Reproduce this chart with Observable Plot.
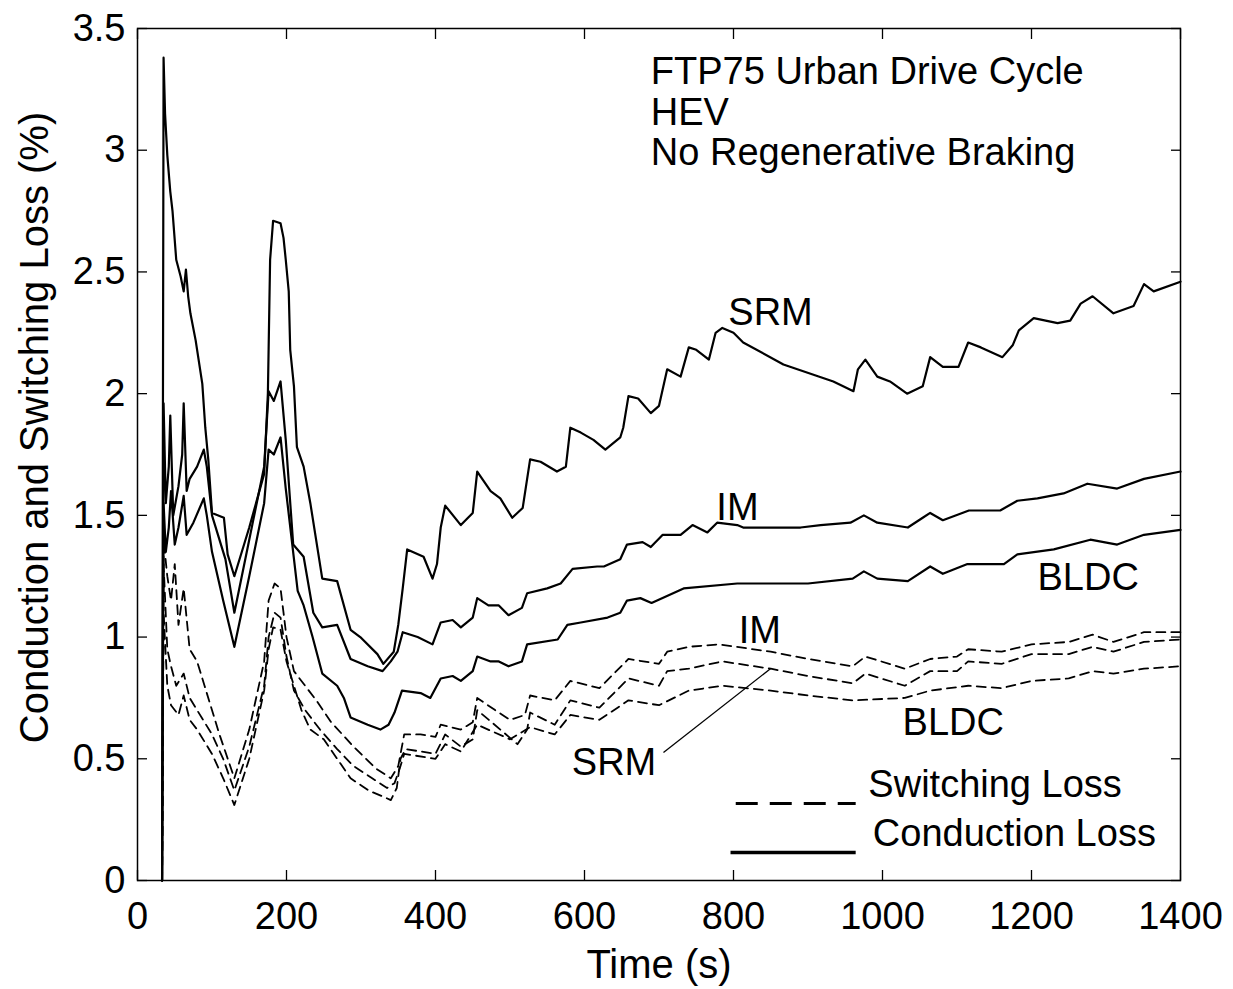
<!DOCTYPE html>
<html>
<head>
<meta charset="utf-8">
<script src="https://cdn.jsdelivr.net/npm/d3@7"></script>
<script src="https://cdn.jsdelivr.net/npm/@observablehq/plot@0.6"></script>
<style>
  html, body { margin: 0; padding: 0; background: #fff; }
  #chart svg { display: block; }
</style>
</head>
<body>
<div id="chart"></div>
<script>
// ---- Data ----
// Conduction loss (solid)
const srmCondT = [33,35,37,40,44,47,52,58,62,65,68,71,78,87,91,95,100,116,121,130,150,170,175,178,182,192,196,199,203,205,210,214,223,232,248,268,286,299,322,330,344,350,356,362,384,396,402,407,413,434,450,456,474,487,503,517,527,541,563,575,581,595,612,628,648,652,659,672,689,700,711,729,740,750,767,776,785,800,813,867,934,961,967,977,993,1010,1033,1054,1064,1081,1102,1115,1132,1161,1175,1183,1203,1235,1252,1266,1282,1310,1337,1351,1364,1400];
const srmCondV = [0,3.38,3.15,2.98,2.83,2.75,2.55,2.48,2.42,2.51,2.40,2.33,2.22,2.04,1.86,1.73,1.51,1.49,1.34,1.25,1.45,1.67,2.00,2.55,2.71,2.70,2.64,2.55,2.42,2.18,2.03,1.78,1.70,1.55,1.24,1.23,1.03,1.00,0.93,0.89,0.94,1.05,1.20,1.36,1.33,1.24,1.30,1.45,1.54,1.46,1.51,1.68,1.60,1.57,1.49,1.53,1.73,1.72,1.68,1.70,1.86,1.84,1.81,1.77,1.82,1.86,1.99,1.98,1.92,1.95,2.10,2.07,2.19,2.18,2.14,2.25,2.27,2.25,2.21,2.12,2.05,2.01,2.10,2.14,2.07,2.05,2.00,2.03,2.15,2.11,2.11,2.21,2.19,2.15,2.20,2.26,2.31,2.29,2.30,2.37,2.40,2.33,2.36,2.45,2.42,2.46];

const imCondT = [33,35,38,42,44,48,55,60,62,66,70,80,89,93,100,118,130,150,170,176,183,192,199,209,223,236,248,268,286,309,329,340,349,356,376,396,407,423,434,450,456,471,485,498,516,523,550,568,584,617,626,648,657,678,689,705,729,745,765,778,805,813,890,917,957,975,993,1034,1054,1064,1081,1116,1158,1181,1208,1243,1275,1315,1351,1400];
const imCondV = [0,1.96,1.55,1.70,1.91,1.50,1.62,1.75,1.96,1.60,1.65,1.70,1.77,1.70,1.50,1.32,1.10,1.40,1.70,2.01,1.97,2.05,1.81,1.38,1.33,1.10,1.04,1.05,0.91,0.88,0.86,0.90,0.94,1.02,1.00,0.97,1.06,1.07,1.04,1.08,1.16,1.13,1.13,1.09,1.12,1.18,1.20,1.22,1.28,1.29,1.29,1.32,1.38,1.39,1.37,1.42,1.42,1.46,1.43,1.47,1.46,1.45,1.45,1.46,1.47,1.50,1.47,1.45,1.49,1.51,1.48,1.52,1.52,1.56,1.57,1.59,1.63,1.61,1.65,1.68];

const bldcCondT = [33,35,38,42,45,50,55,62,66,75,89,93,100,115,130,150,170,176,183,192,199,215,223,235,248,268,277,286,309,326,337,345,355,380,393,407,423,434,450,456,474,485,498,516,523,564,577,595,631,648,657,675,690,733,805,900,960,975,993,1034,1064,1081,1114,1163,1181,1230,1279,1315,1351,1400];
const bldcCondV = [0,1.55,1.35,1.45,1.60,1.38,1.45,1.58,1.42,1.47,1.57,1.50,1.35,1.15,0.96,1.25,1.55,1.77,1.75,1.82,1.61,1.19,1.13,1.00,0.85,0.80,0.75,0.67,0.64,0.62,0.64,0.69,0.78,0.77,0.75,0.83,0.84,0.82,0.86,0.92,0.90,0.90,0.88,0.90,0.97,0.99,1.05,1.06,1.08,1.10,1.15,1.16,1.14,1.20,1.22,1.22,1.24,1.27,1.24,1.23,1.29,1.26,1.30,1.30,1.34,1.36,1.40,1.38,1.42,1.44];

// Switching loss (dashed)
const imSwT = [33,35,40,45,50,55,62,70,80,90,110,130,150,170,176,184,192,200,210,225,240,260,290,320,340,350,358,380,400,407,434,450,456,480,500,520,527,560,581,620,659,700,711,740,780,850,900,960,977,1030,1064,1100,1115,1160,1200,1250,1282,1310,1351,1400];
const imSwV = [0,1.40,1.25,1.15,1.30,1.05,1.20,0.95,0.90,0.80,0.60,0.42,0.62,0.90,1.15,1.22,1.20,1.00,0.86,0.80,0.74,0.65,0.55,0.46,0.42,0.47,0.60,0.60,0.59,0.64,0.62,0.65,0.75,0.70,0.66,0.68,0.76,0.74,0.82,0.79,0.91,0.89,0.94,0.96,0.97,0.94,0.91,0.88,0.92,0.87,0.91,0.92,0.95,0.94,0.97,0.98,1.01,0.98,1.02,1.02];

const srmSwT = [33,35,40,45,55,62,70,80,100,115,130,150,170,176,182,192,200,210,220,232,250,268,286,310,333,340,348,353,360,400,413,434,450,456,487,510,523,527,560,581,620,659,700,711,740,785,850,900,960,977,1030,1064,1100,1115,1160,1200,1250,1282,1310,1351,1400];
const srmSwV = [0,1.10,0.80,0.72,0.68,0.76,0.66,0.62,0.52,0.42,0.31,0.50,0.78,0.95,1.04,1.03,0.90,0.80,0.70,0.62,0.58,0.50,0.42,0.37,0.34,0.33,0.38,0.50,0.54,0.52,0.60,0.55,0.58,0.70,0.62,0.56,0.62,0.69,0.64,0.74,0.71,0.83,0.80,0.86,0.87,0.90,0.87,0.84,0.81,0.85,0.80,0.86,0.86,0.90,0.89,0.93,0.93,0.96,0.94,0.98,0.99];

const bldcSwT = [33,35,40,45,52,62,70,80,100,115,130,150,170,176,184,192,200,210,225,245,268,290,315,335,345,352,358,400,413,434,456,500,527,560,581,620,659,700,740,785,850,900,960,1030,1064,1115,1160,1200,1250,1282,1310,1351,1400];
const bldcSwV = [0,1.30,0.95,0.88,0.80,0.85,0.75,0.70,0.60,0.50,0.37,0.55,0.80,1.00,1.10,1.08,0.92,0.78,0.70,0.62,0.54,0.47,0.42,0.38,0.40,0.46,0.52,0.50,0.56,0.53,0.64,0.58,0.63,0.60,0.68,0.66,0.74,0.72,0.78,0.80,0.78,0.76,0.74,0.75,0.78,0.80,0.79,0.82,0.83,0.86,0.85,0.87,0.88];

// Axis ticks
const xTicks = [0,200,400,600,800,1000,1200,1400];
const yTicks = [0,0.5,1,1.5,2,2.5,3,3.5];

// Text annotations
const titleLines = ["FTP75 Urban Drive Cycle", "HEV", "No Regenerative Braking"];
const titleT = [689, 689, 689];
const titleV = [3.32, 3.155, 2.99];
const labelText = ["SRM", "IM", "BLDC", "IM", "BLDC", "SRM"];
const labelT = [793, 777, 1208, 807, 1027, 583];
const labelV = [2.33, 1.53, 1.245, 1.027, 0.649, 0.485];
const arrowFrom = [706, 0.526];
const arrowTo = [850, 0.871];
const legendText = ["Switching Loss", "Conduction Loss"];
const legendLineT = [[803, 964], [796, 964]];
const legendLineV = [0.316, 0.115];
const legendTextT = [981, 987];
const legendTextV = [0.394, 0.193];

// ---- Build tables ----
function series(name, T, V) { return T.map((t, i) => ({name, t, v: V[i]})); }
const conduction = [
  ...series("SRM", srmCondT, srmCondV),
  ...series("IM", imCondT, imCondV),
  ...series("BLDC", bldcCondT, bldcCondV)
];
const switching = [
  ...series("SRM", srmSwT, srmSwV),
  ...series("IM", imSwT, imSwV),
  ...series("BLDC", bldcSwT, bldcSwV)
];
const titles = titleLines.map((s, i) => ({s, t: titleT[i], v: titleV[i]}));
const labels = labelText.map((s, i) => ({s, t: labelT[i], v: labelV[i]}));
const legendLines = legendText.map((s, i) => ({s, t1: legendLineT[i][0], t2: legendLineT[i][1], v: legendLineV[i]}));
const legendLabels = legendText.map((s, i) => ({s, t: legendTextT[i], v: legendTextV[i]}));
const arrows = [{t1: arrowFrom[0], v1: arrowFrom[1], t2: arrowTo[0], v2: arrowTo[1]}];

const FS = 38;

const chart = Plot.plot({
  width: 1233,
  height: 989,
  marginLeft: 137,
  marginRight: 53,
  marginTop: 28,
  marginBottom: 109,
  style: {fontFamily: "'Liberation Sans', Arial, sans-serif", fontSize: FS + "px", background: "#fff", color: "#000", overflow: "visible"},
  x: {domain: [0, 1400]},
  y: {domain: [0, 3.5]},
  marks: [
    // inward ticks on all four sides
    Plot.axisX(xTicks, {anchor: "bottom", tickSize: -10, tickFormat: () => "", label: null, strokeWidth: 1.3}),
    Plot.axisX(xTicks, {anchor: "top", tickSize: -10, tickFormat: () => "", label: null, strokeWidth: 1.3}),
    Plot.axisY(yTicks, {anchor: "left", tickSize: -10, tickFormat: () => "", label: null, strokeWidth: 1.3}),
    Plot.axisY(yTicks, {anchor: "right", tickSize: -10, tickFormat: () => "", label: null, strokeWidth: 1.3}),
    // tick labels
    Plot.axisX(xTicks, {anchor: "bottom", tickSize: 0, tickPadding: 22, tickFormat: d => String(d), label: null, fontSize: FS}),
    Plot.axisY(yTicks, {anchor: "left", tickSize: 0, tickPadding: 12, tickFormat: d => String(d), label: null, fontSize: FS}),
    // axis titles
    Plot.text(["Time (s)"], {frameAnchor: "bottom", textAnchor: "middle", dy: 97, fontSize: FS + 2}),
    Plot.text(["Conduction and Switching Loss (%)"], {frameAnchor: "left", textAnchor: "middle", lineAnchor: "middle", rotate: -90, dx: -102, dy: -27, fontSize: FS + 2}),
    // data lines
    Plot.line(switching, {x: "t", y: "v", z: "name", stroke: "#000", strokeWidth: 1.8, strokeDasharray: "9,6"}),
    Plot.line(conduction, {x: "t", y: "v", z: "name", stroke: "#000", strokeWidth: 2.2}),
    // annotations
    Plot.text(titles, {x: "t", y: "v", text: "s", textAnchor: "start", fontSize: FS}),
    Plot.text(labels, {x: "t", y: "v", text: "s", textAnchor: "start", fontSize: FS}),
    Plot.link(arrows, {x1: "t1", y1: "v1", x2: "t2", y2: "v2", stroke: "#000", strokeWidth: 1.3}),
    Plot.link(legendLines.slice(0, 1), {x1: "t1", x2: "t2", y1: "v", y2: "v", stroke: "#000", strokeWidth: 3, strokeDasharray: "22,12"}),
    Plot.link(legendLines.slice(1), {x1: "t1", x2: "t2", y1: "v", y2: "v", stroke: "#000", strokeWidth: 3.5}),
    Plot.text(legendLabels, {x: "t", y: "v", text: "s", textAnchor: "start", fontSize: FS}),
    Plot.frame({stroke: "#000", strokeWidth: 1.5})
  ]
});
document.getElementById("chart").appendChild(chart);
</script>
</body>
</html>
